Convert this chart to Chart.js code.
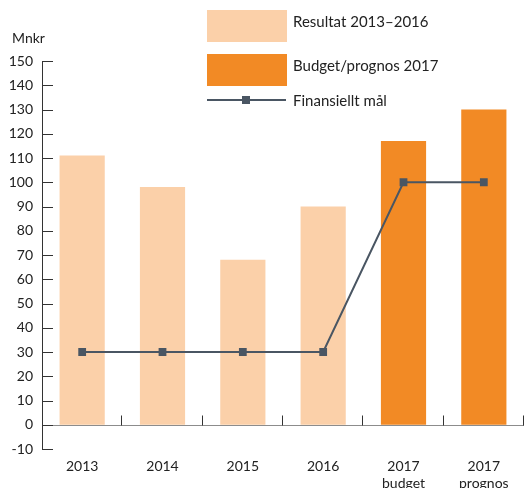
<!doctype html>
<html lang="sv">
<head>
  <meta charset="utf-8">
  <title>Resultat och finansiellt mål</title>
  <script src="https://cdn.jsdelivr.net/npm/chart.js@4.4.1/dist/chart.umd.min.js"></script>
  <style>
    body { margin: 0; background: #fff; font-family: Lato, "Open Sans", sans-serif; color: #222; }
    #wrap { position: relative; width: 524px; height: 488px; }
    #unit { position: absolute; left: 12px; top: 29px; font-size: 14px; line-height: 18px; }
    .row { position: absolute; left: 207px; height: 32px; width: 300px; }
    .row .box { position: absolute; left: 0; top: 0; width: 80px; height: 32px; }
    .row .txt { position: absolute; left: 86px; top: 2px; font-size: 15px; line-height: 18px; white-space: nowrap; }
    .row .ln { position: absolute; left: 0; top: 10px; width: 79px; height: 2px; }
    .row .mk { position: absolute; left: 35px; top: 7px; width: 8px; height: 8px; }
  </style>
</head>
<body>
  <div id="wrap">
    <canvas id="chart"></canvas>
    <div id="unit">Mnkr</div>
    <div id="legend"></div>
  </div>

  <script>
    // data
    const categories = ['2013', '2014', '2015', '2016', ['2017', 'budget'], ['2017', 'prognos']];
    const resultat = [111, 98, 68, 90, null, null];
    const budget = [null, null, null, null, 117, 130];
    const finansielltMal = [30, 30, 30, 30, 100, 100];
    const seriesNames = ['Resultat 2013–2016', 'Budget/prognos 2017', 'Finansiellt mål'];
    const yTicks = { min: -10, max: 150, step: 10 };

    const colLight = '#fbd0a9';
    const colOrange = '#f28a25';
    const colLine = '#4a5663';

    // legend (html)
    const legend = document.getElementById('legend');
    const rowTops = [10, 54, 89];
    seriesNames.forEach((name, i) => {
      const row = document.createElement('div');
      row.className = 'row';
      row.style.top = rowTops[i] + 'px';
      if (i < 2) {
        row.innerHTML = '<div class="box" style="background:' + (i === 0 ? colLight : colOrange) + '"></div>';
      } else {
        row.innerHTML = '<div class="ln" style="background:' + colLine + '"></div>' +
                        '<div class="mk" style="background:' + colLine + '"></div>';
      }
      const t = document.createElement('div');
      t.className = 'txt';
      t.textContent = name;
      row.appendChild(t);
      legend.appendChild(row);
    });

    // zero line, inward y ticks and small category ticks
    const axisMarks = {
      id: 'axisMarks',
      beforeDatasetsDraw(chart) {
        const { ctx, chartArea, scales: { x, y } } = chart;
        const zero = Math.round(y.getPixelForValue(0)) + 0.5;
        ctx.save();
        ctx.lineWidth = 1;

        ctx.strokeStyle = '#8c8c8c';
        ctx.beginPath();
        ctx.moveTo(chartArea.left, zero);
        ctx.lineTo(chartArea.right, zero);
        ctx.stroke();

        ctx.strokeStyle = '#333';
        ctx.beginPath();
        y.ticks.forEach(t => {
          const p = Math.round(y.getPixelForValue(t.value)) + 0.5;
          ctx.moveTo(chartArea.left, p);
          ctx.lineTo(chartArea.left + 11, p);
        });
        const w = x.width / categories.length;
        categories.forEach((c, i) => {
          const p = Math.round(x.getPixelForValue(i) + w / 2) - 0.5;
          ctx.moveTo(p, zero);
          ctx.lineTo(p, zero - 10);
        });
        ctx.stroke();
        ctx.restore();
      }
    };

    new Chart(document.getElementById('chart'), {
      data: {
        labels: categories,
        datasets: [
          {
            type: 'line',
            label: seriesNames[2],
            data: finansielltMal,
            borderColor: colLine,
            backgroundColor: colLine,
            borderWidth: 2,
            pointStyle: 'rect',
            pointRadius: 5.5,
            pointBorderWidth: 0,
            order: 0
          },
          {
            type: 'bar',
            label: seriesNames[0],
            data: resultat,
            backgroundColor: colLight,
            categoryPercentage: 1,
            barPercentage: 0.5625,
            order: 1
          },
          {
            type: 'bar',
            label: seriesNames[1],
            data: budget,
            backgroundColor: colOrange,
            categoryPercentage: 1,
            barPercentage: 0.5625,
            order: 1
          }
        ]
      },
      options: {
        responsive: true,
        maintainAspectRatio: false,
        animation: false,
        layout: { autoPadding: false, padding: { top: 61, right: 0, left: 0, bottom: 0 } },
        plugins: {
          legend: { display: false },
          tooltip: { enabled: false }
        },
        scales: {
          x: {
            stacked: true,
            grid: { display: false, drawTicks: false },
            border: { display: false },
            ticks: {
              color: '#222',
              font: { family: 'Lato', size: 14, lineHeight: 1.2 },
              padding: 9,
              maxRotation: 0,
              autoSkip: false
            },
            afterFit: s => { s.height = 39; }
          },
          y: {
            min: yTicks.min,
            max: yTicks.max,
            grid: { display: false, drawTicks: false },
            border: { display: true, color: '#333', width: 1 },
            ticks: {
              stepSize: yTicks.step,
              color: '#222',
              font: { family: 'Lato', size: 14 },
              padding: 9
            },
            afterFit: s => { s.width = 42; }
          }
        }
      },
      plugins: [axisMarks]
    });
  </script>
</body>
</html>
